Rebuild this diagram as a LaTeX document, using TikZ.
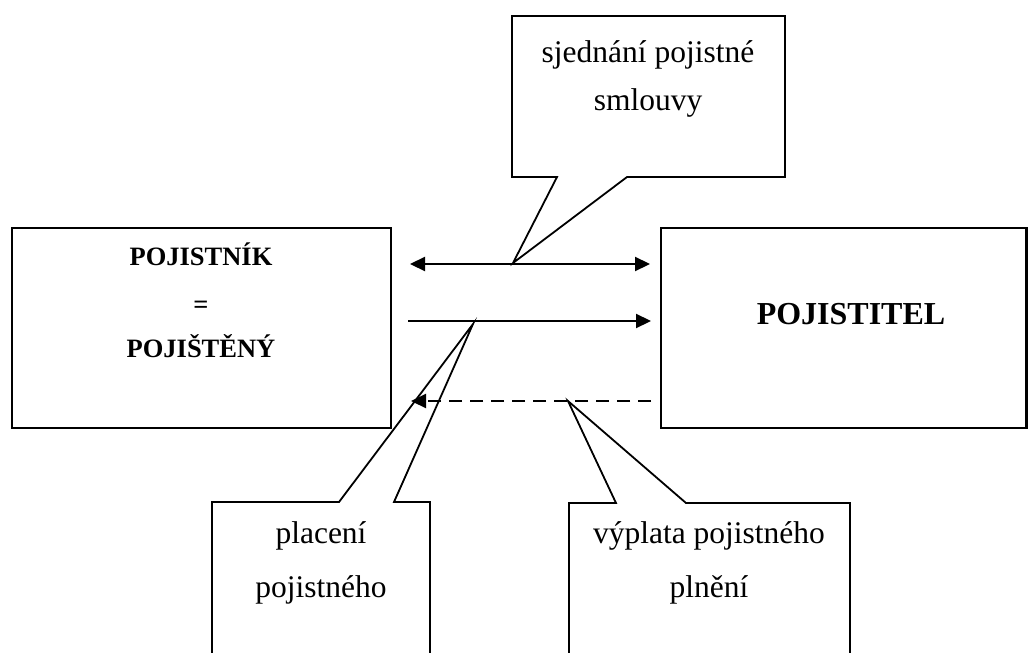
\documentclass[tikz,border=0pt]{standalone}
\usepackage{fontspec}
\setmainfont{Liberation Serif}
\usetikzlibrary{arrows.meta}

\tikzset{
  party/.style={draw, line width=2.5pt, rectangle, inner sep=0pt, outer sep=0pt,
                minimum height=200pt},
  balloon/.style={draw, line width=1.8pt, line join=miter},
  flow/.style={line width=2.2pt, -{Triangle[length=15pt,width=14pt]}},
  twoway/.style={line width=2.2pt, {Triangle[length=15pt,width=14pt]}-{Triangle[length=15pt,width=14pt]}},
  label/.style={anchor=base, inner sep=0pt, font=\fontsize{31.5}{40}\selectfont},
  partytext/.style={anchor=base, inner sep=0pt, font=\fontsize{26.5}{32}\selectfont\bfseries},
}

\begin{document}
\begin{tikzpicture}[x=1pt, y=-1pt]
  \useasboundingbox (0,0) rectangle (1028,653);

  % the two parties of the contract
  \node[party, minimum width=379pt] (insured) at (201.5,328) {};
  \node[party, minimum width=365.5pt] (insurer) at (843.75,328) {};
  \node[partytext] (pojistnik) at (201,265) {POJISTNÍK};
  \node[partytext] (rovno) at (201,313) {=};
  \node[partytext] (pojisteny) at (201,357) {POJIŠTĚNÝ};
  \node[anchor=base, inner sep=0pt, font=\fontsize{32}{38}\selectfont\bfseries] (pojistitel) at (851,324) {POJISTITEL};

  % connector end points, kept clear of the two boxes
  \coordinate (aL) at ([xshift=19pt]insured.east |- 0,264);
  \coordinate (aR) at ([xshift=-11pt]insurer.west |- 0,264);
  \coordinate (bL) at ([xshift=17pt]insured.east |- 0,321);
  \coordinate (bR) at ([xshift=-10pt]insurer.west |- 0,321);
  \coordinate (cL) at ([xshift=20pt]insured.east |- 0,401);
  \coordinate (cR) at ([xshift=-10pt]insurer.west |- 0,401);

  \draw[twoway] (aL) -- (aR);
  \draw[flow] (bL) -- (bR);
  \draw[flow, dash pattern=on 13pt off 8pt] (cR) -- (cL);

  % callout: concluding the contract
  \draw[balloon] (512,16) -- (785,16) -- (785,177) -- (627,177) -- (513,263)
                 -- (557,177) -- (512,177) -- cycle;
  \node[label] (sjednani1) at (648,62) {sjednání pojistné};
  \node[label] (sjednani2) at (648,110) {smlouvy};

  % callout: paying the premium
  \draw[balloon] (212,656) -- (212,502) -- (339,502) -- (473,324)
                 -- (394,502) -- (430,502) -- (430,656);
  \node[label] (placeni1) at (321,543) {placení};
  \node[label] (placeni2) at (321,597) {pojistného};

  % callout: paying out the benefit
  \draw[balloon] (569,656) -- (569,503) -- (616,503) -- (568,401)
                 -- (686,503) -- (850,503) -- (850,656);
  \node[label] (vyplata1) at (709,543) {výplata pojistného};
  \node[label] (vyplata2) at (709,597) {plnění};
\end{tikzpicture}
\end{document}
